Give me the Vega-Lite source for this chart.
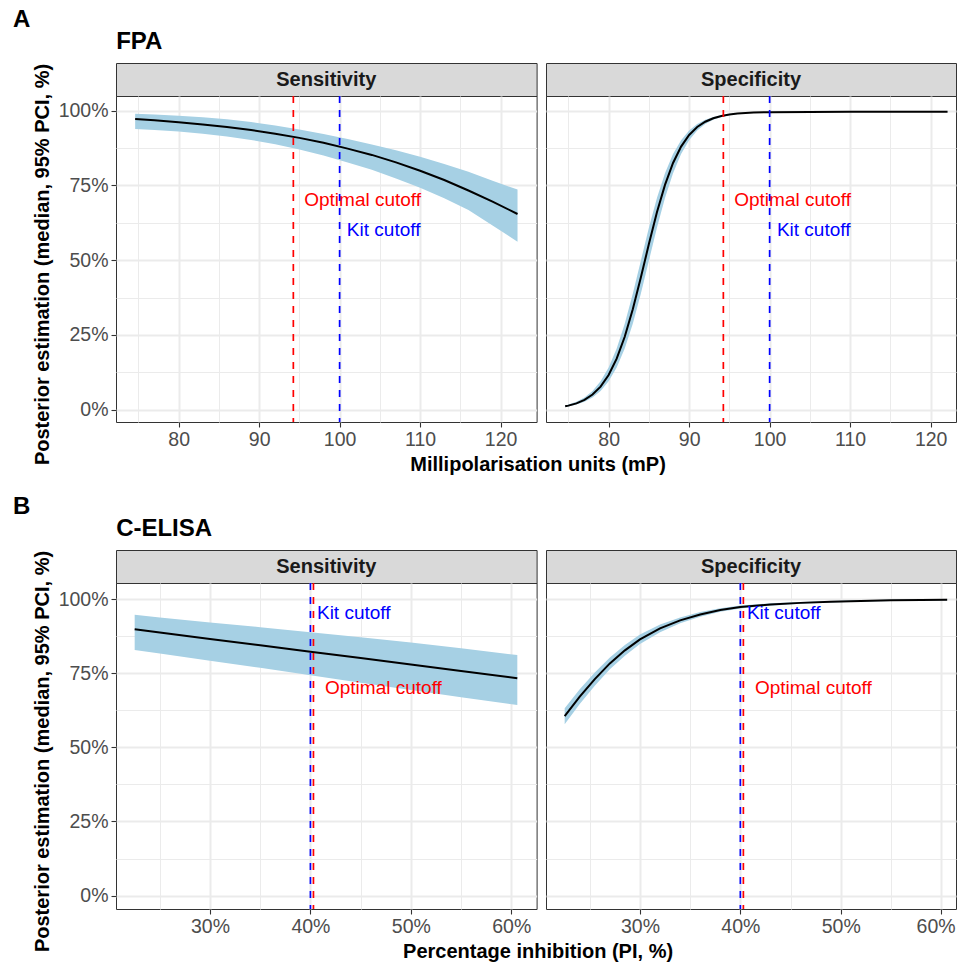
{
  "$schema": "https://vega.github.io/schema/vega-lite/v6.json",
  "padding": {"left": 12, "top": 7, "right": 0, "bottom": 0},
  "background": "white",
  "config": {
    "font": "Liberation Sans",
    "view": {"stroke": "#333333", "strokeWidth": 1},
    "axis": {
      "labelFont": "Liberation Sans", "labelFontSize": 19.5, "labelColor": "#4D4D4D",
      "titleFont": "Liberation Sans", "titleFontSize": 20, "titleFontWeight": "bold", "titleColor": "#000000",
      "tickColor": "#333333", "tickSize": 5, "tickWidth": 1.1, "domain": false,
      "gridColor": "#EBEBEB", "labelPadding": 3, "labelOverlap": false, "titlePadding": 6
    },
    "title": {"font": "Liberation Sans", "fontSize": 24, "fontWeight": "bold", "color": "#000000", "anchor": "start"}
  },
  "datasets": {
    "curves": [
      {"test": "FPA", "panel": "Sensitivity", "x": 74.6, "lo": 93.9, "med": 97.2, "hi": 99.0},
      {"test": "FPA", "panel": "Sensitivity", "x": 77, "lo": 93.5, "med": 96.8, "hi": 98.7},
      {"test": "FPA", "panel": "Sensitivity", "x": 80, "lo": 93.0, "med": 96.15, "hi": 98.3},
      {"test": "FPA", "panel": "Sensitivity", "x": 83, "lo": 92.3, "med": 95.4, "hi": 97.8},
      {"test": "FPA", "panel": "Sensitivity", "x": 86, "lo": 91.4, "med": 94.5, "hi": 97.1},
      {"test": "FPA", "panel": "Sensitivity", "x": 89, "lo": 90.2, "med": 93.5, "hi": 96.2},
      {"test": "FPA", "panel": "Sensitivity", "x": 92, "lo": 88.8, "med": 92.3, "hi": 95.0},
      {"test": "FPA", "panel": "Sensitivity", "x": 95, "lo": 87.0, "med": 90.9, "hi": 93.7},
      {"test": "FPA", "panel": "Sensitivity", "x": 98, "lo": 85.0, "med": 89.25, "hi": 92.2},
      {"test": "FPA", "panel": "Sensitivity", "x": 101, "lo": 82.7, "med": 87.3, "hi": 90.5},
      {"test": "FPA", "panel": "Sensitivity", "x": 104, "lo": 80.2, "med": 85.2, "hi": 88.7},
      {"test": "FPA", "panel": "Sensitivity", "x": 107, "lo": 77.3, "med": 82.7, "hi": 86.8},
      {"test": "FPA", "panel": "Sensitivity", "x": 110, "lo": 74.2, "med": 79.9, "hi": 84.6},
      {"test": "FPA", "panel": "Sensitivity", "x": 113, "lo": 70.7, "med": 76.8, "hi": 82.2},
      {"test": "FPA", "panel": "Sensitivity", "x": 116, "lo": 66.8, "med": 73.3, "hi": 79.6},
      {"test": "FPA", "panel": "Sensitivity", "x": 119, "lo": 61.6, "med": 69.6, "hi": 76.6},
      {"test": "FPA", "panel": "Sensitivity", "x": 122.1, "lo": 56.2, "med": 65.45, "hi": 73.6},

      {"test": "FPA", "panel": "Specificity", "x": 74.6, "lo": 0.92, "med": 1.14, "hi": 1.42},
      {"test": "FPA", "panel": "Specificity", "x": 75, "lo": 1.10, "med": 1.37, "hi": 1.71},
      {"test": "FPA", "panel": "Specificity", "x": 76, "lo": 1.71, "med": 2.13, "hi": 2.65},
      {"test": "FPA", "panel": "Specificity", "x": 77, "lo": 2.65, "med": 3.30, "hi": 4.09},
      {"test": "FPA", "panel": "Specificity", "x": 78, "lo": 4.09, "med": 5.07, "hi": 6.27},
      {"test": "FPA", "panel": "Specificity", "x": 79, "lo": 6.27, "med": 7.73, "hi": 9.49},
      {"test": "FPA", "panel": "Specificity", "x": 80, "lo": 9.49, "med": 11.61, "hi": 14.13},
      {"test": "FPA", "panel": "Specificity", "x": 81, "lo": 14.13, "med": 17.08, "hi": 20.51},
      {"test": "FPA", "panel": "Specificity", "x": 82, "lo": 20.51, "med": 24.41, "hi": 28.79},
      {"test": "FPA", "panel": "Specificity", "x": 83, "lo": 28.79, "med": 33.61, "hi": 38.78},
      {"test": "FPA", "panel": "Specificity", "x": 84, "lo": 38.78, "med": 44.22, "hi": 49.8},
      {"test": "FPA", "panel": "Specificity", "x": 85, "lo": 49.8, "med": 55.38, "hi": 60.82},
      {"test": "FPA", "panel": "Specificity", "x": 86, "lo": 60.82, "med": 66.0, "hi": 70.81},
      {"test": "FPA", "panel": "Specificity", "x": 87, "lo": 70.81, "med": 75.19, "hi": 79.09},
      {"test": "FPA", "panel": "Specificity", "x": 88, "lo": 79.09, "med": 82.52, "hi": 85.47},
      {"test": "FPA", "panel": "Specificity", "x": 89, "lo": 85.47, "med": 87.99, "hi": 90.11},
      {"test": "FPA", "panel": "Specificity", "x": 90, "lo": 90.11, "med": 91.87, "hi": 93.33},
      {"test": "FPA", "panel": "Specificity", "x": 91, "lo": 93.33, "med": 94.53, "hi": 95.51},
      {"test": "FPA", "panel": "Specificity", "x": 92, "lo": 95.51, "med": 96.30, "hi": 96.95},
      {"test": "FPA", "panel": "Specificity", "x": 93, "lo": 96.95, "med": 97.47, "hi": 97.90},
      {"test": "FPA", "panel": "Specificity", "x": 94, "lo": 97.90, "med": 98.24, "hi": 98.50},
      {"test": "FPA", "panel": "Specificity", "x": 95, "lo": 98.50, "med": 98.72, "hi": 98.90},
      {"test": "FPA", "panel": "Specificity", "x": 96, "lo": 98.90, "med": 99.04, "hi": 99.10},
      {"test": "FPA", "panel": "Specificity", "x": 98, "lo": 99.30, "med": 99.37, "hi": 99.45},
      {"test": "FPA", "panel": "Specificity", "x": 100, "lo": 99.45, "med": 99.50, "hi": 99.55},
      {"test": "FPA", "panel": "Specificity", "x": 105, "lo": 99.55, "med": 99.58, "hi": 99.62},
      {"test": "FPA", "panel": "Specificity", "x": 110, "lo": 99.57, "med": 99.60, "hi": 99.63},
      {"test": "FPA", "panel": "Specificity", "x": 116, "lo": 99.57, "med": 99.60, "hi": 99.63},
      {"test": "FPA", "panel": "Specificity", "x": 122.1, "lo": 99.57, "med": 99.60, "hi": 99.63},

      {"test": "ELISA", "panel": "Sensitivity", "x": 22.5, "lo": 82.8, "med": 89.8, "hi": 94.7},
      {"test": "ELISA", "panel": "Sensitivity", "x": 25, "lo": 81.6, "med": 88.7, "hi": 93.8},
      {"test": "ELISA", "panel": "Sensitivity", "x": 30, "lo": 79.2, "med": 86.55, "hi": 92.1},
      {"test": "ELISA", "panel": "Sensitivity", "x": 35, "lo": 76.8, "med": 84.4, "hi": 90.5},
      {"test": "ELISA", "panel": "Sensitivity", "x": 40, "lo": 74.3, "med": 82.2, "hi": 88.8},
      {"test": "ELISA", "panel": "Sensitivity", "x": 45, "lo": 71.8, "med": 80.1, "hi": 87.1},
      {"test": "ELISA", "panel": "Sensitivity", "x": 50, "lo": 69.3, "med": 77.9, "hi": 85.3},
      {"test": "ELISA", "panel": "Sensitivity", "x": 55, "lo": 66.9, "med": 75.75, "hi": 83.4},
      {"test": "ELISA", "panel": "Sensitivity", "x": 60.6, "lo": 64.3, "med": 73.3, "hi": 81.1},

      {"test": "ELISA", "panel": "Specificity", "x": 22.5, "lo": 57.8, "med": 60.5, "hi": 63.2},
      {"test": "ELISA", "panel": "Specificity", "x": 24, "lo": 64.6, "med": 67.1, "hi": 69.6},
      {"test": "ELISA", "panel": "Specificity", "x": 25.5, "lo": 70.8, "med": 73.0, "hi": 75.2},
      {"test": "ELISA", "panel": "Specificity", "x": 27, "lo": 76.3, "med": 78.3, "hi": 80.3},
      {"test": "ELISA", "panel": "Specificity", "x": 28.5, "lo": 80.9, "med": 82.7, "hi": 84.5},
      {"test": "ELISA", "panel": "Specificity", "x": 30, "lo": 84.8, "med": 86.4, "hi": 88.0},
      {"test": "ELISA", "panel": "Specificity", "x": 32, "lo": 88.8, "med": 90.1, "hi": 91.4},
      {"test": "ELISA", "panel": "Specificity", "x": 34, "lo": 91.8, "med": 92.8, "hi": 93.8},
      {"test": "ELISA", "panel": "Specificity", "x": 36, "lo": 94.0, "med": 94.8, "hi": 95.6},
      {"test": "ELISA", "panel": "Specificity", "x": 38, "lo": 95.7, "med": 96.3, "hi": 96.9},
      {"test": "ELISA", "panel": "Specificity", "x": 40, "lo": 96.8, "med": 97.3, "hi": 97.8},
      {"test": "ELISA", "panel": "Specificity", "x": 43, "lo": 97.75, "med": 98.15, "hi": 98.55},
      {"test": "ELISA", "panel": "Specificity", "x": 46, "lo": 98.4, "med": 98.7, "hi": 99.0},
      {"test": "ELISA", "panel": "Specificity", "x": 49, "lo": 98.84, "med": 99.09, "hi": 99.34},
      {"test": "ELISA", "panel": "Specificity", "x": 52, "lo": 99.16, "med": 99.36, "hi": 99.56},
      {"test": "ELISA", "panel": "Specificity", "x": 55, "lo": 99.35, "med": 99.55, "hi": 99.75},
      {"test": "ELISA", "panel": "Specificity", "x": 58, "lo": 99.48, "med": 99.68, "hi": 99.88},
      {"test": "ELISA", "panel": "Specificity", "x": 60.6, "lo": 99.56, "med": 99.76, "hi": 99.96}
    ],
    "cutoffs": [
      {"test": "FPA", "type": "Optimal cutoff", "x": 94.25, "lx": 95.6, "ly": 70},
      {"test": "FPA", "type": "Kit cutoff", "x": 100, "lx": 100.9, "ly": 60},
      {"test": "ELISA", "type": "Kit cutoff", "x": 40.0, "lx": 40.65, "ly": 95.2},
      {"test": "ELISA", "type": "Optimal cutoff", "x": 40.3, "lx": 41.45, "ly": 70}
    ]
  },
  "vconcat": [
    {
      "title": {"text": "A", "fontSize": 24, "fontWeight": "bold", "color": "#000000", "anchor": "start", "offset": -1.8, "dx": -18.7},
      "vconcat": [{
        "title": {"text": "FPA", "fontSize": 24, "fontWeight": "bold", "color": "#000000", "anchor": "start", "offset": 8.5, "dx": 84.5},
        "vconcat": [{
          "title": {"text": "Millipolarisation units (mP)", "fontSize": 20, "fontWeight": "bold", "color": "#000000", "orient": "bottom", "anchor": "middle", "offset": -10.5, "dx": 44},
          "spacing": 7,
          "hconcat": [
            {
              "spacing": 0, "bounds": "flush",
              "vconcat": [
                {"width": 420.6, "height": 33, "view": {"fill": "#D9D9D9", "stroke": "#333333"},
                 "data": {"values": [{"label": "Sensitivity"}]},
                 "mark": {"type": "text", "fontSize": 20, "fontWeight": "bold", "color": "#1A1A1A"},
                 "encoding": {"text": {"field": "label"}}},
                {"width": 420.6, "height": 326,
                 "data": {"name": "curves"},
                 "transform": [{"filter": "datum.test === 'FPA' && datum.panel === 'Sensitivity'"}],
                 "encoding": {
                   "x": {"field": "x", "type": "quantitative", "scale": {"domain": [72.22, 124.47], "nice": false, "zero": false},
                         "axis": {"title": null, "values": [75, 80, 85, 90, 95, 100, 105, 110, 115, 120],
                                  "labelExpr": "datum.value % 10 === 0 ? datum.value : ''",
                                  "tickOpacity": {"condition": {"test": "datum.value % 10 === 0", "value": 1}, "value": 0},
                                  "gridWidth": {"condition": {"test": "datum.value % 10 === 0", "value": 2}, "value": 1}}}
                 },
                 "layer": [
                   {"mark": {"type": "area", "color": "#A6D0E4", "opacity": 1},
                    "encoding": {"y": {"field": "lo", "type": "quantitative", "scale": {"domain": [-4.1, 104.9], "nice": false, "zero": false},
                                       "axis": {"title": "Posterior estimation (median, 95% PCI, %)", "titleY": 168, "values": [0, 12.5, 25, 37.5, 50, 62.5, 75, 87.5, 100],
                                                "labelExpr": "datum.value % 25 === 0 ? datum.value + '%' : ''",
                                                "tickOpacity": {"condition": {"test": "datum.value % 25 === 0", "value": 1}, "value": 0},
                                                "gridWidth": {"condition": {"test": "datum.value % 25 === 0", "value": 2}, "value": 1}}},
                                 "y2": {"field": "hi"}}},
                   {"mark": {"type": "line", "color": "#000000", "strokeWidth": 2},
                    "encoding": {"y": {"field": "med", "type": "quantitative"}}},
                   {"data": {"name": "cutoffs"}, "transform": [{"filter": "datum.test === 'FPA'"}],
                    "mark": {"type": "text", "align": "left", "baseline": "middle", "fontSize": 19},
                    "encoding": {"x": {"field": "lx", "type": "quantitative"}, "y": {"field": "ly", "type": "quantitative"}, "text": {"field": "type"},
                                 "color": {"field": "type", "type": "nominal", "scale": {"domain": ["Optimal cutoff", "Kit cutoff"], "range": ["#FF0000", "#0000FF"]}, "legend": null}}},
                   {"data": {"name": "cutoffs"}, "transform": [{"filter": "datum.test === 'FPA'"}],
                    "mark": {"type": "rule", "strokeDash": [7, 7], "strokeWidth": 1.7},
                    "encoding": {"x": {"field": "x", "type": "quantitative"},
                                 "color": {"field": "type", "type": "nominal", "legend": null}}}
                 ]}
              ]
            },
            {
              "spacing": 0, "bounds": "flush",
              "vconcat": [
                {"width": 410, "height": 33, "view": {"fill": "#D9D9D9", "stroke": "#333333"},
                 "data": {"values": [{"label": "Specificity"}]},
                 "mark": {"type": "text", "fontSize": 20, "fontWeight": "bold", "color": "#1A1A1A"},
                 "encoding": {"text": {"field": "label"}}},
                {"width": 410, "height": 326,
                 "data": {"name": "curves"},
                 "transform": [{"filter": "datum.test === 'FPA' && datum.panel === 'Specificity'"}],
                 "encoding": {
                   "x": {"field": "x", "type": "quantitative", "scale": {"domain": [72.22, 123.15], "nice": false, "zero": false},
                         "axis": {"title": null, "values": [75, 80, 85, 90, 95, 100, 105, 110, 115, 120],
                                  "labelExpr": "datum.value % 10 === 0 ? datum.value : ''",
                                  "tickOpacity": {"condition": {"test": "datum.value % 10 === 0", "value": 1}, "value": 0},
                                  "gridWidth": {"condition": {"test": "datum.value % 10 === 0", "value": 2}, "value": 1}}}
                 },
                 "layer": [
                   {"mark": {"type": "area", "color": "#A6D0E4", "opacity": 1},
                    "encoding": {"y": {"field": "lo", "type": "quantitative", "scale": {"domain": [-4.1, 104.9], "nice": false, "zero": false},
                                       "axis": {"title": null, "labels": false, "ticks": false, "values": [0, 12.5, 25, 37.5, 50, 62.5, 75, 87.5, 100],
                                                "gridWidth": {"condition": {"test": "datum.value % 25 === 0", "value": 2}, "value": 1}}},
                                 "y2": {"field": "hi"}}},
                   {"mark": {"type": "line", "color": "#000000", "strokeWidth": 2},
                    "encoding": {"y": {"field": "med", "type": "quantitative"}}},
                   {"data": {"name": "cutoffs"}, "transform": [{"filter": "datum.test === 'FPA'"}],
                    "mark": {"type": "text", "align": "left", "baseline": "middle", "fontSize": 19},
                    "encoding": {"x": {"field": "lx", "type": "quantitative"}, "y": {"field": "ly", "type": "quantitative"}, "text": {"field": "type"},
                                 "color": {"field": "type", "type": "nominal", "scale": {"domain": ["Optimal cutoff", "Kit cutoff"], "range": ["#FF0000", "#0000FF"]}, "legend": null}}},
                   {"data": {"name": "cutoffs"}, "transform": [{"filter": "datum.test === 'FPA'"}],
                    "mark": {"type": "rule", "strokeDash": [7, 7], "strokeWidth": 1.7},
                    "encoding": {"x": {"field": "x", "type": "quantitative"},
                                 "color": {"field": "type", "type": "nominal", "legend": null}}}
                 ]}
              ]
            }
          ]
        }]
      }]
    },
    {
      "title": {"text": "B", "fontSize": 24, "fontWeight": "bold", "color": "#000000", "anchor": "start", "offset": -1.8, "dx": -18.7},
      "vconcat": [{
        "title": {"text": "C-ELISA", "fontSize": 24, "fontWeight": "bold", "color": "#000000", "anchor": "start", "offset": 8.5, "dx": 84.5},
        "vconcat": [{
          "title": {"text": "Percentage inhibition (PI, %)", "fontSize": 20, "fontWeight": "bold", "color": "#000000", "orient": "bottom", "anchor": "middle", "offset": -10.5, "dx": 44},
          "spacing": 7,
          "hconcat": [
            {
              "spacing": 0, "bounds": "flush",
              "vconcat": [
                {"width": 420.6, "height": 33, "view": {"fill": "#D9D9D9", "stroke": "#333333"},
                 "data": {"values": [{"label": "Sensitivity"}]},
                 "mark": {"type": "text", "fontSize": 20, "fontWeight": "bold", "color": "#1A1A1A"},
                 "encoding": {"text": {"field": "label"}}},
                {"width": 420.6, "height": 326,
                 "data": {"name": "curves"},
                 "transform": [{"filter": "datum.test === 'ELISA' && datum.panel === 'Sensitivity'"}],
                 "encoding": {
                   "x": {"field": "x", "type": "quantitative", "scale": {"domain": [20.64, 62.52], "nice": false, "zero": false},
                         "axis": {"title": null, "values": [25, 30, 35, 40, 45, 50, 55, 60],
                                  "labelExpr": "datum.value % 10 === 0 ? datum.value + '%' : ''",
                                  "tickOpacity": {"condition": {"test": "datum.value % 10 === 0", "value": 1}, "value": 0},
                                  "gridWidth": {"condition": {"test": "datum.value % 10 === 0", "value": 2}, "value": 1}}}
                 },
                 "layer": [
                   {"mark": {"type": "area", "color": "#A6D0E4", "opacity": 1},
                    "encoding": {"y": {"field": "lo", "type": "quantitative", "scale": {"domain": [-4.5, 105.4], "nice": false, "zero": false},
                                       "axis": {"title": "Posterior estimation (median, 95% PCI, %)", "titleY": 168, "values": [0, 12.5, 25, 37.5, 50, 62.5, 75, 87.5, 100],
                                                "labelExpr": "datum.value % 25 === 0 ? datum.value + '%' : ''",
                                                "tickOpacity": {"condition": {"test": "datum.value % 25 === 0", "value": 1}, "value": 0},
                                                "gridWidth": {"condition": {"test": "datum.value % 25 === 0", "value": 2}, "value": 1}}},
                                 "y2": {"field": "hi"}}},
                   {"mark": {"type": "line", "color": "#000000", "strokeWidth": 2},
                    "encoding": {"y": {"field": "med", "type": "quantitative"}}},
                   {"data": {"name": "cutoffs"}, "transform": [{"filter": "datum.test === 'ELISA'"}],
                    "mark": {"type": "text", "align": "left", "baseline": "middle", "fontSize": 19},
                    "encoding": {"x": {"field": "lx", "type": "quantitative"}, "y": {"field": "ly", "type": "quantitative"}, "text": {"field": "type"},
                                 "color": {"field": "type", "type": "nominal", "scale": {"domain": ["Optimal cutoff", "Kit cutoff"], "range": ["#FF0000", "#0000FF"]}, "legend": null}}},
                   {"data": {"name": "cutoffs"}, "transform": [{"filter": "datum.test === 'ELISA'"}],
                    "mark": {"type": "rule", "strokeDash": [7, 7], "strokeWidth": 1.7},
                    "encoding": {"x": {"field": "x", "type": "quantitative"},
                                 "color": {"field": "type", "type": "nominal", "legend": null}}}
                 ]}
              ]
            },
            {
              "spacing": 0, "bounds": "flush",
              "vconcat": [
                {"width": 410, "height": 33, "view": {"fill": "#D9D9D9", "stroke": "#333333"},
                 "data": {"values": [{"label": "Specificity"}]},
                 "mark": {"type": "text", "fontSize": 20, "fontWeight": "bold", "color": "#1A1A1A"},
                 "encoding": {"text": {"field": "label"}}},
                {"width": 410, "height": 326,
                 "data": {"name": "curves"},
                 "transform": [{"filter": "datum.test === 'ELISA' && datum.panel === 'Specificity'"}],
                 "encoding": {
                   "x": {"field": "x", "type": "quantitative", "scale": {"domain": [20.64, 61.48], "nice": false, "zero": false},
                         "axis": {"title": null, "values": [25, 30, 35, 40, 45, 50, 55, 60],
                                  "labelExpr": "datum.value % 10 === 0 ? datum.value + '%' : ''",
                                  "labelFlush": 16, "labelFlushOffset": 14,
                                  "tickOpacity": {"condition": {"test": "datum.value % 10 === 0", "value": 1}, "value": 0},
                                  "gridWidth": {"condition": {"test": "datum.value % 10 === 0", "value": 2}, "value": 1}}}
                 },
                 "layer": [
                   {"mark": {"type": "area", "color": "#A6D0E4", "opacity": 1},
                    "encoding": {"y": {"field": "lo", "type": "quantitative", "scale": {"domain": [-4.5, 105.4], "nice": false, "zero": false},
                                       "axis": {"title": null, "labels": false, "ticks": false, "values": [0, 12.5, 25, 37.5, 50, 62.5, 75, 87.5, 100],
                                                "gridWidth": {"condition": {"test": "datum.value % 25 === 0", "value": 2}, "value": 1}}},
                                 "y2": {"field": "hi"}}},
                   {"mark": {"type": "line", "color": "#000000", "strokeWidth": 2},
                    "encoding": {"y": {"field": "med", "type": "quantitative"}}},
                   {"data": {"name": "cutoffs"}, "transform": [{"filter": "datum.test === 'ELISA'"}],
                    "mark": {"type": "text", "align": "left", "baseline": "middle", "fontSize": 19},
                    "encoding": {"x": {"field": "lx", "type": "quantitative"}, "y": {"field": "ly", "type": "quantitative"}, "text": {"field": "type"},
                                 "color": {"field": "type", "type": "nominal", "scale": {"domain": ["Optimal cutoff", "Kit cutoff"], "range": ["#FF0000", "#0000FF"]}, "legend": null}}},
                   {"data": {"name": "cutoffs"}, "transform": [{"filter": "datum.test === 'ELISA'"}],
                    "mark": {"type": "rule", "strokeDash": [7, 7], "strokeWidth": 1.7},
                    "encoding": {"x": {"field": "x", "type": "quantitative"},
                                 "color": {"field": "type", "type": "nominal", "legend": null}}}
                 ]}
              ]
            }
          ]
        }]
      }]
    }
  ],
  "spacing": 19
}
